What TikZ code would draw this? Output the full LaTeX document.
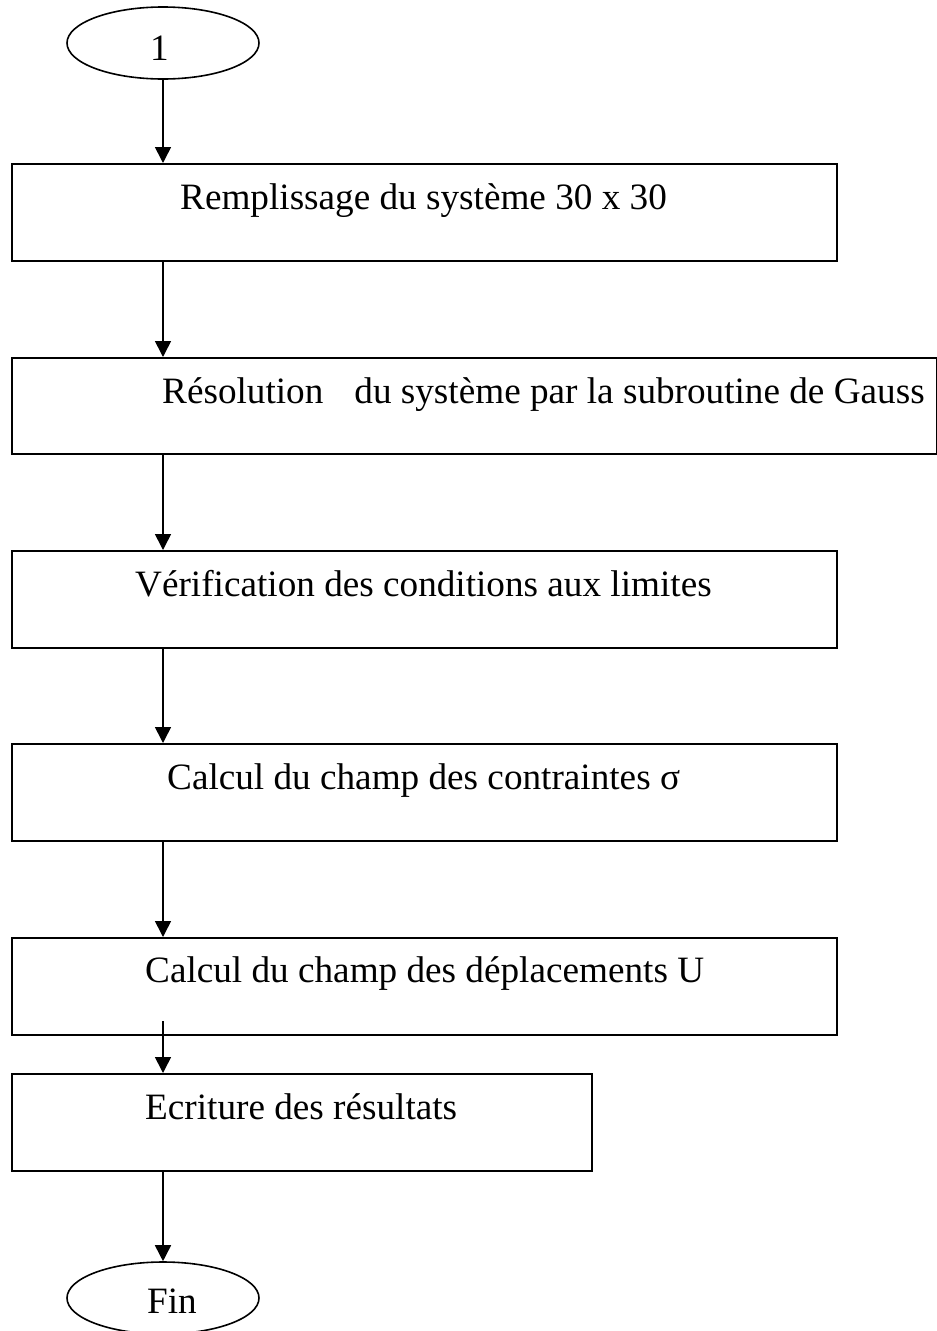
\documentclass[tikz,border=0pt]{standalone}
\usepackage{fontspec}
\setmainfont{Liberation Serif}
\usetikzlibrary{arrows.meta,shapes.geometric}
\begin{document}
\begin{tikzpicture}[x=1pt,y=-1pt,
  box/.style={draw,line width=1.6pt,rectangle,inner sep=0pt,anchor=north west},
  term/.style={draw,line width=1.6pt,ellipse,inner sep=0pt,minimum width=192pt,minimum height=72pt},
  lbl/.style={anchor=base west,inner sep=0pt,font=\fontsize{37.2pt}{42pt}\selectfont},
  arr/.style={line width=1.6pt,-{Triangle[width=16pt,length=16pt]}}]
\useasboundingbox (0,0) rectangle (937,1331);
% terminals
\node[term] (e1) at (163,43) {};
\node[lbl] (t0) at (150,60) {1};
\node[term] (e2) at (163,1298) {};
\node[lbl] (t7) at (147,1313) {Fin};
% boxes
\node[box,minimum width=825pt,minimum height=97pt] (b1) at (11,163) {};
\node[box,minimum width=925pt,minimum height=96pt] (b2) at (11,357) {};
\node[box,minimum width=825pt,minimum height=97pt] (b3) at (11,550) {};
\node[box,minimum width=825pt,minimum height=97pt] (b4) at (11,743) {};
\node[box,minimum width=825pt,minimum height=97pt] (b5) at (11,937) {};
\node[box,minimum width=580pt,minimum height=97pt] (b6) at (11,1073) {};
% texts
\node[lbl] (t1) at (180,209) {Remplissage du système 30 x 30};
\node[lbl] (t2) at (162,403) {Résolution\hspace{31pt}du système par la subroutine de Gauss};
\node[lbl] (t3) at (135,596) {Vérification des conditions aux limites};
\node[lbl] (t4) at (167,789) {Calcul du champ des contraintes σ};
\node[lbl] (t5) at (145,982) {Calcul du champ des déplacements U};
\node[lbl] (t6) at (145,1119) {Ecriture des résultats};
% connectors
\draw[arr] (e1.south) -- (e1.south |- b1.north);
\draw[arr] (b1.south -| e1) -- (e1 |- b2.north);
\draw[arr] (b2.south -| e1) -- (e1 |- b3.north);
\draw[arr] (b3.south -| e1) -- (e1 |- b4.north);
\draw[arr] (b4.south -| e1) -- (e1 |- b5.north);
\coordinate (s5) at (163,1021);
\draw[arr] (s5) -- (s5 |- b6.north);
\draw[arr] (b6.south -| e1) -- (e2.north);
\end{tikzpicture}
\end{document}
